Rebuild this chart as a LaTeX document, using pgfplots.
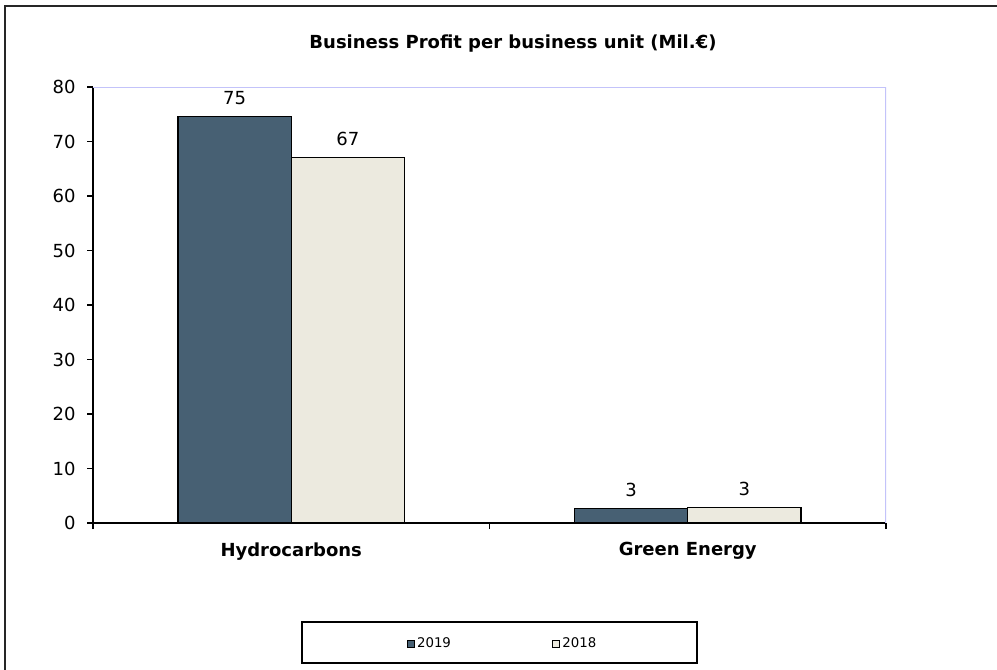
\documentclass[border=0pt]{standalone}
\usepackage{fontspec}
\setmainfont{DejaVu Sans}
\usepackage{pgfplots}
\pgfplotsset{compat=1.18}
\definecolor{c19}{RGB}{71,96,115}
\definecolor{c18}{RGB}{236,234,223}
\definecolor{lav}{RGB}{195,195,250}
\newcommand\fs{\fontsize{13.5}{16}\selectfont}
\begin{document}
\begin{tikzpicture}[x=0.75pt,y=0.75pt]
\useasboundingbox (0,0) rectangle (997,669);
\draw[line width=1.1pt, black!85] (5,-10) -- (5,663) -- (1010,663);
\node[font=\bfseries\fs] at (513,625) {Business Profit per business unit (Mil.€)};
\coordinate (A) at (93,146);
\draw[line width=1pt] (302,47) rectangle (697,6);
\begin{axis}[
  at={(A)}, anchor=south west, scale only axis,
  width=594.75pt, height=327pt,
  ymin=0, ymax=80, ytick={0,10,...,80},
  xmin=-0.5, xmax=1.5, enlargelimits=false,
  xtick={-0.5,0.5,1.5}, xticklabels={},
  extra x ticks={0,1}, extra x tick labels={Hydrocarbons,Green Energy},
  extra x tick style={major tick length=0pt, tick label style={font=\bfseries\fs, yshift=-11pt}},
  axis x line=bottom, axis y line=left,
  axis line style={-, line width=1pt, black},
  tick align=outside, major tick length=4.5pt,
  tick style={black, line width=1pt},
  ticklabel style={font=\fs},
  yticklabel style={/pgf/number format/assume math mode=true, xshift=-5pt},
  ybar, bar width=0.2854,
  nodes near coords, point meta=y,
  nodes near coords style={font=\fs, yshift=5pt, /pgf/number format/fixed, /pgf/number format/precision=0, /pgf/number format/assume math mode=true},
  legend style={at={(axis description cs:0.517,-0.2775)}, anchor=center, draw=none, fill=none,
    font=\fontsize{10}{12}\selectfont, /tikz/every even column/.append style={column sep=74pt}},
  legend columns=2,
  legend image code/.code={\draw[#1, draw=black, line width=0.6pt] (0pt,-2.5pt) rectangle (5pt,2.5pt);},
]
\draw[lav, line width=0.8pt] (rel axis cs:0,1) -- (rel axis cs:1,1) -- (rel axis cs:1,0);
\addplot[fill=c19, draw=black, line width=0.9pt, bar shift=-0.1427] coordinates {(0,74.6) (1,2.6)};
\addplot[fill=c18, draw=black, line width=0.9pt, bar shift=0.1427] coordinates {(0,67.0) (1,2.8)};
\legend{2019,2018}
\end{axis}
\end{tikzpicture}
\end{document}
